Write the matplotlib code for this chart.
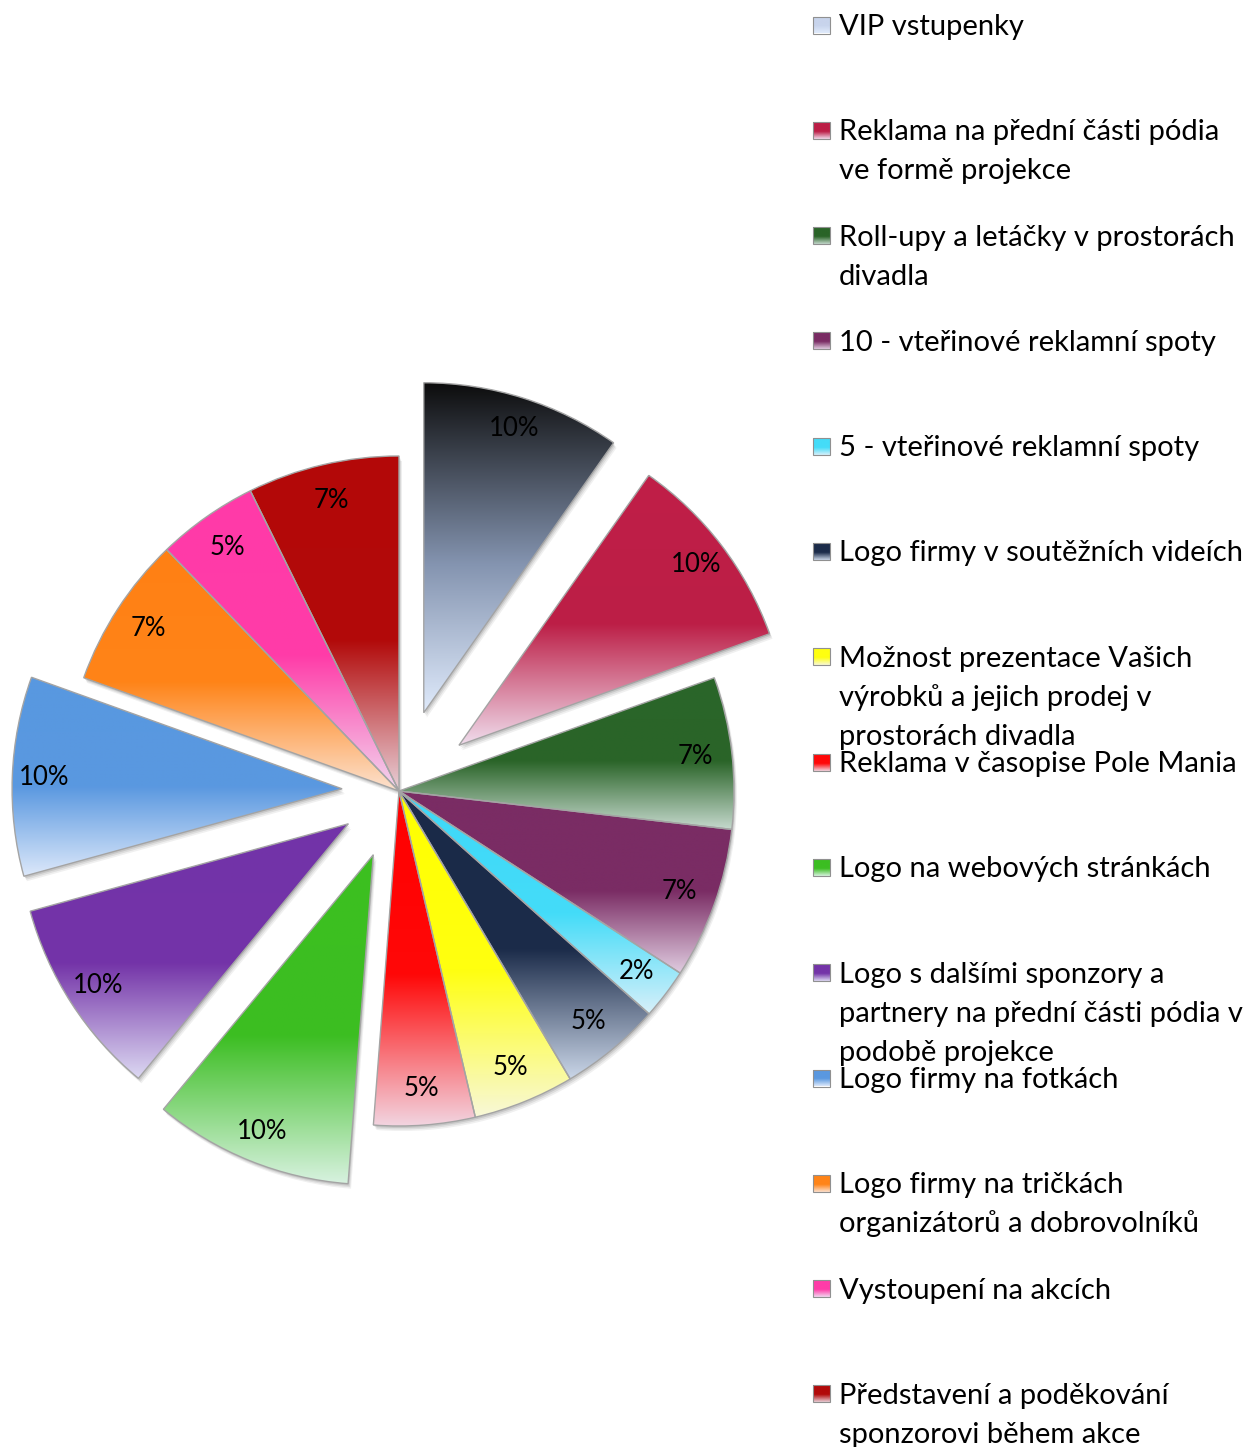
import numpy as np
import matplotlib.pyplot as plt
from matplotlib.colors import to_rgb
from matplotlib.patches import Wedge, Rectangle

# categories in the order they go round the pie (clockwise from 12 o'clock)
categories = [
    "VIP vstupenky",
    "Reklama na přední části pódia\nve formě projekce",
    "Roll-upy a letáčky v prostorách\ndivadla",
    "10 - vteřinové reklamní spoty",
    "5 - vteřinové reklamní spoty",
    "Logo firmy v soutěžních videích",
    "Možnost prezentace Vašich\nvýrobků a jejich prodej v\nprostorách divadla",
    "Reklama v časopise Pole Mania",
    "Logo na webových stránkách",
    "Logo s dalšími sponzory a\npartnery na přední části pódia v\npodobě projekce",
    "Logo firmy na fotkách",
    "Logo firmy na tričkách\norganizátorů a dobrovolníků",
    "Vystoupení na akcích",
    "Představení a poděkování\nsponzorovi během akce",
]
counts = [4, 4, 3, 3, 1, 2, 2, 2, 4, 4, 4, 3, 2, 3]
explode = [0.245, 0.225, 0, 0, 0, 0, 0, 0, 0.205, 0.18, 0.17, 0, 0, 0]

# vertical gradient per slice: top -> middle -> bottom
top_colors = ["#0c0c0c", "#c01f48", "#2a662a", "#7a2c64", "#3fd8f8", "#1a2a48", "#ffff00",
              "#ff0000", "#3cc020", "#7233a8", "#5898e0", "#ff8014", "#ff3aa8", "#b40808"]
mid_colors = ["#8494b0", "#bc1e46", "#2a6428", "#7a2c64", "#44dcf8", "#1c2c4a", "#ffff10",
              "#ff0808", "#3cbe22", "#7434a8", "#5a98e0", "#ff8418", "#ff3ca8", "#b20a0a"]
bottom_colors = ["#e0ebfc", "#f0dcec", "#c4d8cc", "#e0cce0", "#d8f0fa", "#cad6e8", "#f8f8d8",
                 "#f2d4e0", "#d8f2e0", "#dcd8f2", "#dce8fa", "#fce2d0", "#f2d8f0", "#e8d0d8"]
legend_colors = ["#c8d4ec", "#bc1e46", "#2a6428", "#7a2c64", "#44dcf8", "#1c2c4a", "#ffff10",
                 "#ff0808", "#3cbe22", "#7434a8", "#5a98e0", "#ff8418", "#ff3ca8", "#b20a0a"]

W, H = 1256, 1447
fig = plt.figure(figsize=(W / 100, H / 100), dpi=100)
ax = fig.add_axes([0, 0, 1, 1])

R = 335
cx, cy = 399, H - 791
wedges, texts, autotexts = ax.pie(
    counts, explode=[e * R for e in explode], startangle=90, counterclock=False,
    radius=R, center=(cx, cy), autopct="%.0f%%", pctdistance=0.89,
    textprops=dict(fontsize=18.5, family="Lato", color="black"),
    wedgeprops=dict(edgecolor="#a4a4a4", linewidth=1.0),
)


def gradient_image(c_top, c_mid, c_bot, n=256):
    t = np.linspace(0, 1, n)
    stops = np.array([0, 0.55, 1])
    cols = np.array([to_rgb(c_top), to_rgb(c_mid), to_rgb(c_bot)])
    img = np.stack([np.interp(t, stops, cols[:, k]) for k in range(3)], axis=-1)
    return img[:, None, :]


def fill_gradient(patch, c_top, c_mid, c_bot, z):
    verts = patch.get_patch_transform().transform(patch.get_path().vertices)
    x0, y0 = verts.min(axis=0)
    x1, y1 = verts.max(axis=0)
    im = ax.imshow(gradient_image(c_top, c_mid, c_bot), extent=(x0, x1, y0, y1),
                   origin="upper", aspect="auto", interpolation="bilinear", zorder=z)
    im.set_clip_path(patch)
    patch.set_facecolor("none")
    patch.set_zorder(z + 0.5)


for i, w in enumerate(wedges):
    if explode[i] > 0:
        w.set_radius(R - 5)  # exploded slices come out a touch smaller
    # soft drop shadow
    for k, a in enumerate([0.06, 0.08, 0.1]):
        off = 5 - k * 1.5
        sh = Wedge((w.center[0] + off * 0.6, w.center[1] - off), w.r, w.theta1, w.theta2,
                   facecolor="black", edgecolor="none", alpha=a, zorder=1)
        ax.add_patch(sh)
    fill_gradient(w, top_colors[i], mid_colors[i], bottom_colors[i], 2)

for t in autotexts:
    t.set_zorder(5)

# legend on the right
y_first = 25
step = 105.3
for i, label in enumerate(categories):
    yc = y_first + i * step
    sq = Rectangle((813, H - yc - 8.5), 17, 17, edgecolor="#909090", linewidth=0.8)
    ax.add_patch(sq)
    fill_gradient(sq, legend_colors[i], legend_colors[i], bottom_colors[i], 3)
    for j, line in enumerate(label.split("\n")):
        ax.text(839, H - (yc + 10 + j * 39), line, ha="left", va="baseline",
                fontsize=21, family="Lato", color="black", zorder=6)

ax.set_xlim(0, W)
ax.set_ylim(0, H)
ax.axis("off")

fig.savefig("out.png", dpi=100)
